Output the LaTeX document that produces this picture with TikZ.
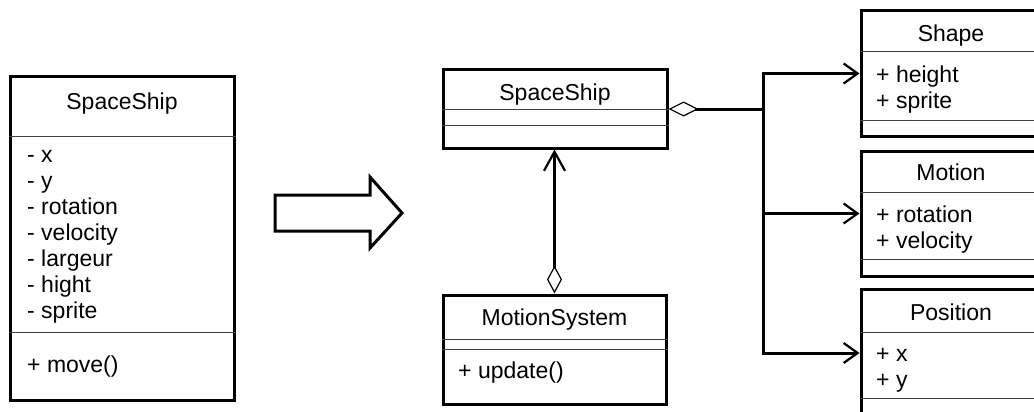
\documentclass[tikz,border=0pt]{standalone}
\usepackage{fontspec}
\setmainfont{Liberation Sans}
\usetikzlibrary{arrows.meta}
\begin{document}
\begin{tikzpicture}[x=1pt,y=-1pt,
  box/.style={draw, line width=3pt, inner sep=0pt, fill=white},
  sep/.style={line width=1pt, draw=black!75},
  txt/.style={anchor=base west, inner sep=0pt, font=\fontsize{23}{26}\selectfont},
  ttl/.style={anchor=base, inner sep=0pt, font=\fontsize{23}{26}\selectfont},
  conn/.style={line width=3pt},
  opena/.style={-{Straight Barb[length=14pt,width=20pt,line width=2.2pt]}},
  agg/.style={{Diamond[open,length=30pt,width=15pt,line width=1.2pt]}-},
  aggv/.style={{Diamond[open,length=28pt,width=15pt,line width=1.2pt]}-{Straight Barb[length=19pt,width=21pt,line width=2.2pt]}}
]
\useasboundingbox (0,0) rectangle (1034,412);

% left box
\node[box, minimum width=224pt, minimum height=323pt] (lb) at (122,238.5) {};
\draw[sep] (lb.west |- 0,136) -- (lb.east |- 0,136);
\draw[sep] (lb.west |- 0,332) -- (lb.east |- 0,332);
\node[ttl] (lbt) at (122,110) {SpaceShip};
\node[txt] (lb1) at (27,162) {- x};
\node[txt] (lb2) at (27,188) {- y};
\node[txt] (lb3) at (27,214) {- rotation};
\node[txt] (lb4) at (27,240) {- velocity};
\node[txt] (lb5) at (27,266) {- largeur};
\node[txt] (lb6) at (27,292) {- hight};
\node[txt] (lb7) at (27,318) {- sprite};
\node[txt] (lb8) at (27,372) {+ move()};

% big arrow
\draw[line width=3pt, line join=miter] (275,195) -- (370,195) -- (370,177) -- (402,213) -- (370,248) -- (370,231) -- (275,231) -- cycle;

% middle spaceship
\node[box, minimum width=224pt, minimum height=78pt] (ss) at (555,109) {};
\draw[sep] (ss.west |- 0,109) -- (ss.east |- 0,109);
\draw[sep] (ss.west |- 0,125) -- (ss.east |- 0,125);
\node[ttl] (sst) at (555,100) {SpaceShip};

% motion system
\node[box, minimum width=223pt, minimum height=109pt] (ms) at (554.5,349.5) {};
\draw[sep] (ms.west |- 0,339) -- (ms.east |- 0,339);
\draw[sep] (ms.west |- 0,349) -- (ms.east |- 0,349);
\node[ttl] (mst) at (554.5,325) {MotionSystem};
\node[txt] (ms1) at (458,378) {+ update()};

% shape
\node[box, minimum width=180pt, minimum height=125pt] (shape) at (951,73.5) {};
\draw[sep] (shape.west |- 0,52) -- (shape.east |- 0,52);
\draw[sep] (shape.west |- 0,120) -- (shape.east |- 0,120);
\node[ttl] (shapet) at (951,42) {Shape};
\node[txt] (shape1) at (876,83) {+ height};
\node[txt] (shape2) at (876,108) {+ sprite};

% motion
\node[box, minimum width=180pt, minimum height=125pt] (motion) at (951,213.5) {};
\draw[sep] (motion.west |- 0,192) -- (motion.east |- 0,192);
\draw[sep] (motion.west |- 0,259) -- (motion.east |- 0,259);
\node[ttl] (motiont) at (951,180) {Motion};
\node[txt] (motion1) at (876,222) {+ rotation};
\node[txt] (motion2) at (876,248) {+ velocity};

% position
\node[box, minimum width=180pt, minimum height=128pt] (position) at (951,353) {};
\draw[sep] (position.west |- 0,332) -- (position.east |- 0,332);
\draw[sep] (position.west |- 0,398) -- (position.east |- 0,398);
\node[ttl] (positiont) at (951,320) {Position};
\node[txt] (position1) at (876,361) {+ x};
\node[txt] (position2) at (876,387) {+ y};

% connectors
\coordinate (j) at (763,109);
\draw[conn, agg] (ss.east) -- (j);
\draw[conn, opena] (j) |- (shape.west);
\draw[conn, opena] (j) |- (motion.west);
\draw[conn, opena] (j) |- (position.west);
\draw[conn, aggv] (ms.north) -- (ms.north |- ss.south);
\end{tikzpicture}
\end{document}
